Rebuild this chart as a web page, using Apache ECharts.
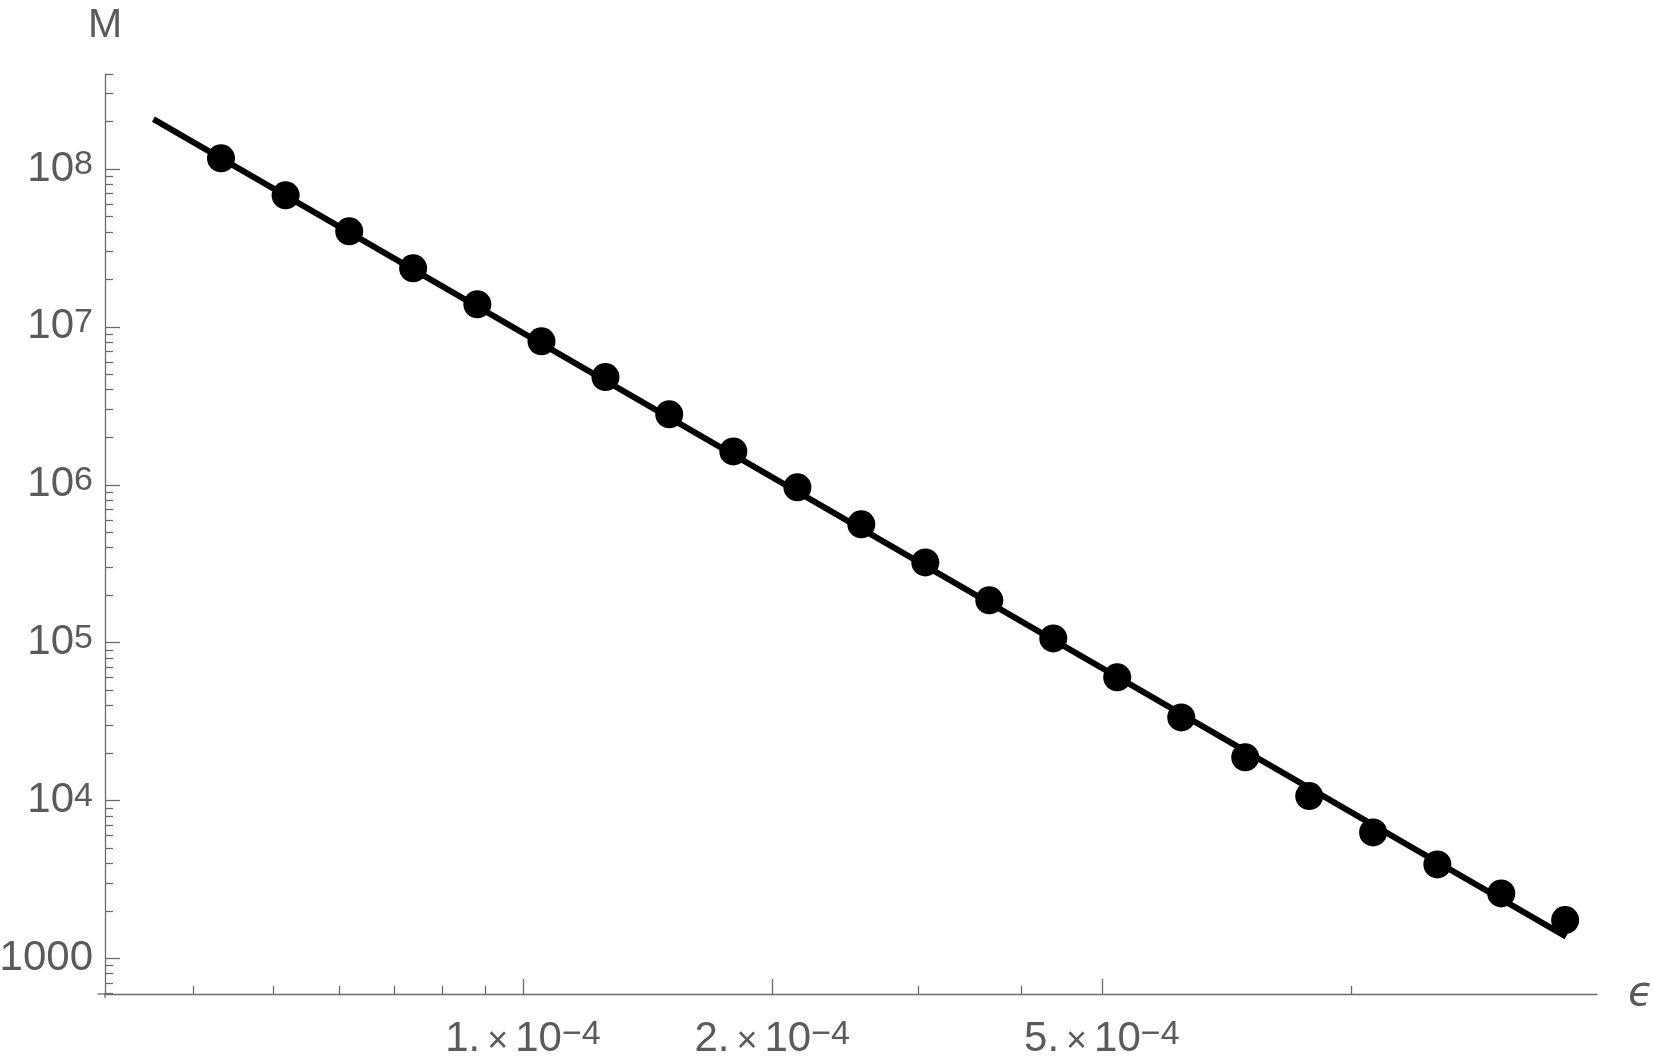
<!DOCTYPE html>
<html>
<head>
<meta charset="utf-8">
<script src="https://cdn.jsdelivr.net/npm/echarts@6/dist/echarts.min.js"></script>
<style>
  html, body { margin: 0; padding: 0; background: #fff; }
  #chart { width: 1654px; height: 1064px; }
</style>
</head>
<body>
<div id="chart"></div>
<script>
// ---- data ----
const EPS = [4.32e-5, 5.17e-5, 6.17e-5, 7.37e-5, 8.81e-5, 1.053e-4, 1.258e-4, 1.502e-4,
             1.795e-4, 2.145e-4, 2.562e-4, 3.061e-4, 3.657e-4, 4.369e-4, 5.219e-4, 6.236e-4,
             7.450e-4, 8.900e-4, 1.063e-3, 1.271e-3, 1.518e-3, 1.813e-3];
const M_VALUES = [1.169e8, 6.815e7, 4.031e7, 2.350e7, 1.390e7, 8.10e6, 4.813e6, 2.793e6,
                  1.628e6, 9.632e5, 5.615e5, 3.225e5, 1.853e5, 1.064e5, 6.028e4, 3.363e4,
                  1.877e4, 1.067e4, 6284, 3940, 2581, 1748];
// fitted line end points
const FIT_EPS = [3.58e-5, 1.818e-3];
const FIT_M = [2.07e8, 1374];

// axis ranges and ticks
const X_RANGE = [3.129e-5, 1.981e-3];
const Y_RANGE = [595, 4e8];
const X_MAJOR = [1e-4, 2e-4, 5e-4];
const X_MINOR = [4e-5, 5e-5, 6e-5, 7e-5, 8e-5, 9e-5, 3e-4, 4e-4, 1e-3];
const Y_MAJOR = [1e3, 1e4, 1e5, 1e6, 1e7, 1e8];
const Y_MINOR = [600, 700, 800, 900,
  2e3, 3e3, 4e3, 5e3, 6e3, 7e3, 8e3, 9e3,
  2e4, 3e4, 4e4, 5e4, 6e4, 7e4, 8e4, 9e4,
  2e5, 3e5, 4e5, 5e5, 6e5, 7e5, 8e5, 9e5,
  2e6, 3e6, 4e6, 5e6, 6e6, 7e6, 8e6, 9e6,
  2e7, 3e7, 4e7, 5e7, 6e7, 7e7, 8e7, 9e7,
  2e8, 3e8, 4e8];
const X_NAME = 'ϵ';
const Y_NAME = 'M';

// ---- styling ----
const AXIS_COLOR = '#6a6a6a';
const TEXT_COLOR = '#5a5a5a';
const FONT = '"Liberation Sans", Arial, sans-serif';

const rich = {
  b: { fontSize: 42, lineHeight: 42, verticalAlign: 'bottom', color: TEXT_COLOR, fontFamily: FONT },
  s: { fontSize: 34, lineHeight: 34, verticalAlign: 'top', padding: [0, 0, 20, 0], color: TEXT_COLOR, fontFamily: FONT },
  t: { fontSize: 36, lineHeight: 42, verticalAlign: 'bottom', padding: [0, 7, 0, 7], color: TEXT_COLOR, fontFamily: FONT }
};

function yFmt(v) {
  const e = Math.round(Math.log10(v));
  if (e === 3) return '{b|1000}';
  return '{b|10}{s|' + e + '}';
}
function xFmt(v) {
  const e = Math.floor(Math.log10(v) + 1e-9);
  const m = Math.round(v / Math.pow(10, e));
  return '{b|' + m + '.}{t|×}{b|10}{s|\u2212' + (-e) + '}';
}

const chart = echarts.init(document.getElementById('chart'), null, { renderer: 'canvas' });

const gridLeft = 105, gridRight = 57, gridTop = 74, gridBottom = 70;

const baseAxis = {
  type: 'log',
  logBase: 10,
  splitLine: { show: false },
  minorTick: { show: false },
  minorSplitLine: { show: false }
};

chart.setOption({
  animation: false,
  backgroundColor: '#ffffff',
  grid: { left: gridLeft, right: gridRight, top: gridTop, bottom: gridBottom,
          containLabel: false, outerBoundsMode: 'none' },
  xAxis: [
    Object.assign({}, baseAxis, {
      min: X_RANGE[0], max: X_RANGE[1], position: 'bottom',
      axisLine: { show: true, lineStyle: { color: AXIS_COLOR, width: 1.3 } },
      axisTick: { show: true, inside: true, length: 15, customValues: X_MAJOR, lineStyle: { color: AXIS_COLOR, width: 1.3 } },
      axisLabel: { show: true, customValues: X_MAJOR, formatter: xFmt, rich: rich, margin: 24, color: TEXT_COLOR },
      name: X_NAME, nameLocation: 'end', nameGap: 31,
      nameTextStyle: { fontSize: 41, fontStyle: 'italic', color: TEXT_COLOR, fontFamily: '"DejaVu Sans", "Liberation Sans", sans-serif', verticalAlign: 'middle', align: 'left' }
    }),
    Object.assign({}, baseAxis, {
      min: X_RANGE[0], max: X_RANGE[1], position: 'bottom',
      axisLine: { show: false },
      axisTick: { show: true, inside: true, length: 8, customValues: X_MINOR, lineStyle: { color: AXIS_COLOR, width: 1.3 } },
      axisLabel: { show: false }
    })
  ],
  yAxis: [
    Object.assign({}, baseAxis, {
      min: Y_RANGE[0], max: Y_RANGE[1], position: 'left',
      axisLine: { show: true, lineStyle: { color: AXIS_COLOR, width: 1.3 } },
      axisTick: { show: true, inside: true, length: 15, customValues: Y_MAJOR, lineStyle: { color: AXIS_COLOR, width: 1.3 } },
      axisLabel: { show: true, customValues: Y_MAJOR, formatter: yFmt, rich: rich, margin: 12, color: TEXT_COLOR },
      name: Y_NAME, nameLocation: 'end', nameGap: 28,
      nameTextStyle: { fontSize: 41, color: TEXT_COLOR, fontFamily: FONT, align: 'center' }
    }),
    Object.assign({}, baseAxis, {
      min: Y_RANGE[0], max: Y_RANGE[1], position: 'left',
      axisLine: { show: false },
      axisTick: { show: true, inside: true, length: 8, customValues: Y_MINOR, lineStyle: { color: AXIS_COLOR, width: 1.3 } },
      axisLabel: { show: false }
    })
  ],
  graphic: [
    { type: 'line', shape: { x1: gridLeft - 7.5, y1: 1064 - gridBottom, x2: gridLeft, y2: 1064 - gridBottom },
      style: { stroke: AXIS_COLOR, lineWidth: 1.3 }, silent: true },
    { type: 'line', shape: { x1: gridLeft, y1: 1064 - gridBottom, x2: gridLeft, y2: 1064 - gridBottom + 4 },
      style: { stroke: AXIS_COLOR, lineWidth: 1.3 }, silent: true }
  ],
  series: [
    {
      type: 'line', xAxisIndex: 0, yAxisIndex: 0,
      data: FIT_EPS.map((x, i) => [x, FIT_M[i]]),
      showSymbol: false, symbol: 'none',
      lineStyle: { color: '#000', width: 6, cap: 'butt', opacity: 1 },
      z: 2, silent: true
    },
    {
      type: 'scatter', xAxisIndex: 0, yAxisIndex: 0,
      data: EPS.map((x, i) => [x, M_VALUES[i]]),
      symbol: 'circle', symbolSize: 28,
      itemStyle: { color: '#000', opacity: 1 },
      z: 3, silent: true
    }
  ]
});
</script>
</body>
</html>
